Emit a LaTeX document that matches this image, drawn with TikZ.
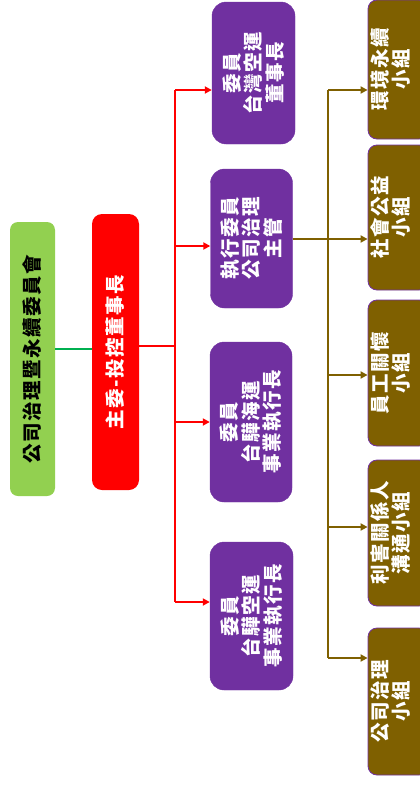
\documentclass[tikz,border=0pt]{standalone}
\usepackage{fontspec}
\newfontfamily\cjkfont[LetterSpace=8]{Noto Sans CJK TC}
\usetikzlibrary{arrows.meta}
\definecolor{govgreen}{HTML}{92D050}
\definecolor{linkgreen}{HTML}{00B050}
\definecolor{memberpurple}{HTML}{7030A0}
\definecolor{groupbrown}{HTML}{7F6000}
\begin{document}
\begin{tikzpicture}[x=1pt,y=-1pt,>={Triangle[length=7pt,width=7pt]},
	font=\cjkfont\bfseries\fontsize{19.5}{21.5}\selectfont, line join=round,
	board/.style={rotate=90,align=center,inner sep=0pt},
	member/.style={board,fill=memberpurple,draw=memberpurple,text=white,rounded corners=14pt},
	group/.style={board,fill=groupbrown,draw=memberpurple,line width=0.8pt,text=white,rounded corners=9pt,minimum height=60},
	redline/.style={red,line width=2pt},
	brownline/.style={groupbrown,line width=1.8pt}]
	\clip (0,0) rectangle (420,787);
	\node[board,fill=govgreen,rounded corners=8pt,minimum width=274,minimum height=45] (gov) at (32.5,359) {公司治理暨永續委員會};
	\node[board,fill=red,text=white,rounded corners=10pt,minimum width=276,minimum height=47] (chair) at (115.5,352) {主委-投控董事長};
	\node[member,minimum width=142,minimum height=83] (m1) at (253.5,73) {委員\\台灣空運\\董事長};
	\node[member,minimum width=139,minimum height=82] (m2) at (251.5,238.5) {執行委員\\公司治理\\主管};
	\node[member,minimum width=160,minimum height=82] (m3) at (251,422) {委員\\台驊海運\\事業執行長};
	\node[member,minimum width=148,minimum height=83] (m4) at (251.5,616) {委員\\台驊空運\\事業執行長};
	\node[group,minimum width=139] (g1) at (398,69.5) {環境永續\\小組\rule[-17pt]{0pt}{0pt}};
	\node[group,minimum width=145] (g2) at (398,217.5) {社會公益\\小組\rule[-17pt]{0pt}{0pt}};
	\node[group,minimum width=146] (g3) at (398,373) {員工關懷\\小組\rule[-17pt]{0pt}{0pt}};
	\node[group,minimum width=146] (g4) at (398,533) {利害關係人\\溝通小組\rule[-17pt]{0pt}{0pt}};
	\node[group,minimum width=147] (g5) at (398,701.5) {公司治理\\小組\rule[-17pt]{0pt}{0pt}};
	\coordinate (gl) at (74,349);
	\coordinate (hub) at (175,346);
	\coordinate (t1) at (175,90);
	\coordinate (t2) at (175,246);
	\coordinate (t3) at (175,422);
	\coordinate (t4) at (175,602);
	\coordinate (b1) at (328,90);
	\coordinate (b2) at (328,239);
	\coordinate (b3) at (328,375);
	\coordinate (b4) at (328,527);
	\coordinate (b5) at (328,658);
	\draw[linkgreen,line width=2.2pt] (gl -| gov.south) -- (gl -| chair.north);
	\draw[redline] (hub -| chair.south) -- (hub);
	\draw[redline] (t1) -- (t4);
	\foreach \i in {1,...,4}
		\draw[redline,->] (t\i) -- (t\i -| m\i.north);
	\draw[brownline] (b1) -- (b5);
	\draw[brownline] (b2 -| m2.south) -- (b2);
	\foreach \i in {1,...,5}
		\draw[brownline,->] (b\i) -- (b\i -| g\i.north);
\end{tikzpicture}
\end{document}
